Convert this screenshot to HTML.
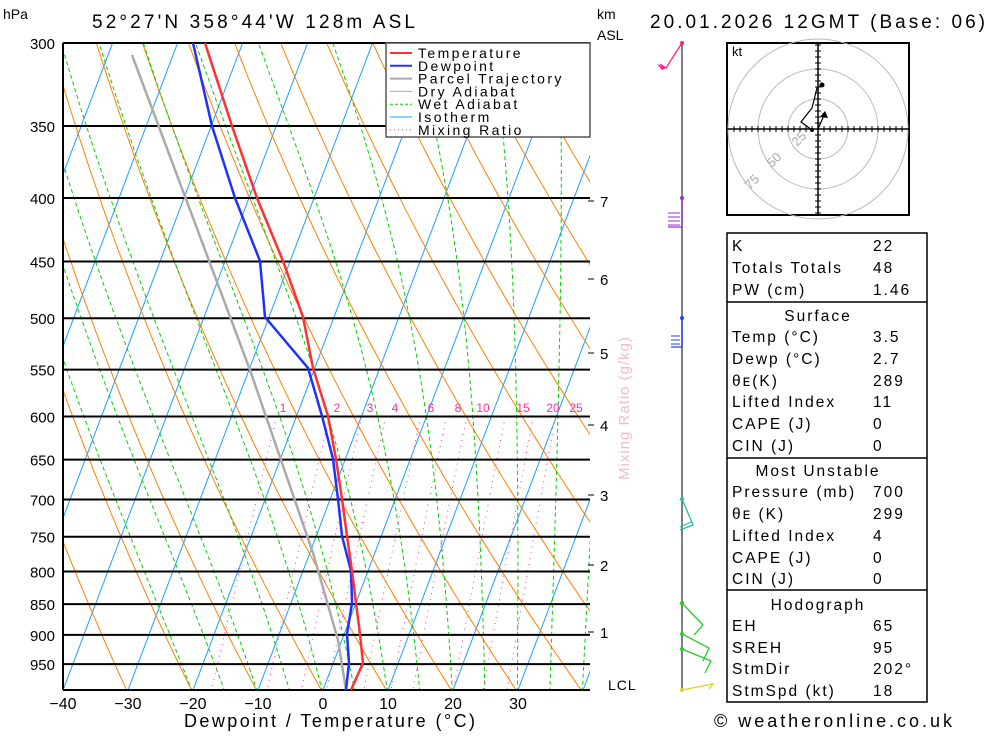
<!DOCTYPE html>
<html><head><meta charset="utf-8"><style>
body{margin:0;background:#fff;width:1000px;height:733px;overflow:hidden}
svg{font-family:"Liberation Sans","DejaVu Sans",sans-serif}
</style></head><body>
<svg id="s" width="1000" height="733" viewBox="0 0 1000 733" xmlns="http://www.w3.org/2000/svg">
<defs><clipPath id="c"><rect x="63" y="43" width="527" height="647"/></clipPath></defs>
<g id="bg" clip-path="url(#c)"></g>
<g id="fg"></g>
</svg>
<script>
var NS="http://www.w3.org/2000/svg";
var bg=document.getElementById('bg'),fg=document.getElementById('fg');
function el(p,t,a,txt){var e=document.createElementNS(NS,t);for(var k in a)e.setAttribute(k,a[k]);if(txt!==undefined)e.textContent=txt;p.appendChild(e);return e;}
function Y(p){return 43+538.8*Math.log(p/300);}
function X(T,p){return 323+6.5*T+0.378*(690-Y(p));}
function poly(g,pts,a){a.points=pts.map(function(q){return q[0].toFixed(1)+','+q[1].toFixed(1)}).join(' ');a.fill='none';return el(g,'polyline',a);}
var PB=1000;
for(var T=-120;T<=60;T+=10){poly(bg,[[X(T,PB),Y(PB)],[X(T,250),Y(250)]],{stroke:'#1aa0ff','stroke-width':1});}
for(var th=-40;th<=220;th+=10){var pts=[];for(var p=250;p<=1000;p+=10){var t=(th+273.15)*Math.pow(p/1000,0.286)-273.15;pts.push([X(t,p),Y(p)]);}poly(bg,pts,{stroke:'#ff8000','stroke-width':1});}
function es(t){return 6.112*Math.exp(17.67*t/(t+243.5));}
for(var tw=-20;tw<=40;tw+=5){var t=tw,pts=[[X(t,1000),Y(1000)]];for(var p=1000;p>250;p-=5){var Tk=t+273.15,rs=0.622*es(t)/(p-es(t));var d=(287*Tk+2.5e6*rs)/(p*(1004+2.5e6*2.5e6*rs*0.622/(287*Tk*Tk)));t-=d*5;pts.push([X(t,p-5),Y(p-5)]);}poly(bg,pts,{stroke:'#00d000','stroke-width':1,'stroke-dasharray':'4,3'});}
[1,2,3,4,6,8,10,15,20,25].forEach(function(w){var pts=[];for(var p=600;p<=1000;p+=10){var e=w*1e-3*p/(0.622+w*1e-3),l=Math.log(e/6.112),t=243.5*l/(17.67-l);pts.push([X(t,p),Y(p)]);}poly(bg,pts,{stroke:'#ff2da0','stroke-width':1,'stroke-dasharray':'1,5'});});
[300,350,400,450,500,550,600,650,700,750,800,850,900,950].forEach(function(p){var y=Y(p);el(fg,'line',{x1:63,x2:590,y1:y,y2:y,stroke:'#000','stroke-width':2});el(fg,'text',{x:55,y:y+6,'text-anchor':'end','font-size':15},p);});
el(fg,'line',{x1:63,x2:63,y1:43,y2:690,stroke:'#000','stroke-width':2});
el(fg,'line',{x1:63,x2:590,y1:690,y2:690,stroke:'#000','stroke-width':2});
poly(fg,[[132,55],[250,370],[313,553],[338,640],[346,690]],{stroke:'#aaa','stroke-width':2.5});
poly(fg,[[193,43],[212,126],[235,198],[260,261],[265,317],[308,368],[322,416],[333,459],[338,499],[342,536],[351,571],[352,603],[347,634],[349,663],[346,690]],{stroke:'#2030ff','stroke-width':2.5});
poly(fg,[[205,43],[232,126],[257,198],[283,261],[303,317],[313,368],[328,416],[336,459],[342,499],[347,536],[352,571],[356,603],[360,634],[363,663],[351,690]],{stroke:'#ff3030','stroke-width':2.5});
[[1,283],[2,337],[3,370],[4,395],[6,431],[8,458],[10,483],[15,523],[20,553],[25,576]].forEach(function(a){el(fg,'text',{x:a[1],y:412,'font-size':12,fill:'#ff2da0','text-anchor':'middle'},a[0]);});
el(fg,'rect',{x:386,y:43,width:204,height:94,fill:'#fff',stroke:'#555','stroke-width':1.5});
[['Temperature','#ff3030',2],['Dewpoint','#2030ff',2],['Parcel Trajectory','#aaa',2],['Dry Adiabat','#aaa',1],['Wet Adiabat','#00d000',1],['Isotherm','#1aa0ff',1],['Mixing Ratio','#ff2da0',1]].forEach(function(r,i){var y=53+i*12.8;var a={x1:390,x2:412,y1:y,y2:y,stroke:r[1],'stroke-width':r[2]};if(i==4)a['stroke-dasharray']='3,2';if(i==6)a['stroke-dasharray']='1,3';el(fg,'line',a);el(fg,'text',{x:418,y:y+5,'font-size':14,'letter-spacing':'2.4'},r[0]);});
for(var T=-40;T<=30;T+=10){el(fg,'text',{x:323+6.5*T,y:709,'font-size':16,'text-anchor':'middle'},T==-40?'\u221240':(T<0?'\u2212'+(-T):T));}
el(fg,'text',{x:184,y:727,'font-size':18,textLength:291,lengthAdjust:'spacing'},'Dewpoint / Temperature (\u00b0C)');
el(fg,'text',{x:3,y:19,'font-size':14},'hPa');
el(fg,'text',{x:92,y:28,'font-size':19,textLength:323,lengthAdjust:'spacing'},"52\u00b027'N  358\u00b044'W  128m  ASL");
el(fg,'text',{x:650,y:28,'font-size':19,textLength:335,lengthAdjust:'spacing'},'20.01.2026  12GMT  (Base: 06)');
el(fg,'text',{x:597,y:19,'font-size':14},'km');
el(fg,'text',{x:597,y:40,'font-size':14},'ASL');
[[7,201],[6,279],[5,353],[4,425],[3,495],[2,565],[1,632]].forEach(function(a){el(fg,'text',{x:600,y:a[1]+6,'font-size':15},a[0]);el(fg,'line',{x1:588,x2:594,y1:a[1],y2:a[1],stroke:'#000'});});
el(fg,'text',{x:608,y:690,'font-size':14,'letter-spacing':'1'},'LCL');
el(fg,'text',{x:629,y:408,'font-size':15,'text-anchor':'middle',fill:'#f5b8d0',transform:'rotate(-90 629 408)','letter-spacing':'1'},'Mixing Ratio (g/kg)');
el(fg,'line',{x1:682,x2:682,y1:43,y2:690,stroke:'#555','stroke-width':1.5});
function barb(y,col,pts){el(fg,'circle',{cx:682,cy:y,r:2,fill:col});poly(fg,pts,{stroke:col,'stroke-width':1.3});}
barb(43,'#ff2080',[[682,43],[666,68],[660,64]]);el(fg,'polygon',{points:'666,68 657,64 662,70',fill:'#ff2080'});
barb(198,'#9030d0',[[682,198],[682,227],[668,227]]);[213,217,221,225].forEach(function(y){el(fg,'line',{x1:668,x2:680,y1:y,y2:y,stroke:'#9030d0'});});
barb(318,'#2040ff',[[682,318],[682,347],[671,347]]);[336,340,344].forEach(function(y){el(fg,'line',{x1:671,x2:680,y1:y,y2:y,stroke:'#2040ff'});});
barb(499,'#20c0a0',[[682,499],[693,525],[680,530]]);el(fg,'line',{x1:680,x2:691,y1:527,y2:522,stroke:'#20c0a0'});
barb(603,'#20d020',[[682,603],[703,625],[694,635]]);
barb(634,'#20d020',[[682,634],[709,648],[703,661]]);
barb(649,'#20d020',[[682,649],[711,661],[705,673]]);
barb(690,'#e0d020',[[682,690],[713,684],[709,689]]);
var hg=el(fg,'g',{});
el(hg,'rect',{x:727,y:43,width:182,height:172,fill:'#fff',stroke:'#000','stroke-width':2});
[30,60,90].forEach(function(r){el(hg,'circle',{cx:818,cy:129,r:r,fill:'none',stroke:'#bbb'});});
el(hg,'line',{x1:727,x2:909,y1:129,y2:129,stroke:'#000','stroke-width':1.5});
el(hg,'line',{x1:818,x2:818,y1:43,y2:215,stroke:'#000','stroke-width':1.5});
for(var d=-84;d<=84;d+=6){if(d==0)continue;el(hg,'line',{x1:818+d,x2:818+d,y1:126,y2:132,stroke:'#000'});el(hg,'line',{x1:815,x2:821,y1:129+d,y2:129+d,stroke:'#000'});}
el(hg,'text',{x:732,y:56,'font-size':13},'kt');
[['25',797,147],['50',772,168],['75',750,190]].forEach(function(a){el(hg,'text',{x:a[1],y:a[2],'font-size':13,fill:'#aaa',transform:'rotate(-45 '+a[1]+' '+a[2]+')'},a[0]);});
poly(hg,[[812,130],[801,122],[808,113],[812,108],[817,88],[822,85]],{stroke:'#000','stroke-width':1.2});
el(hg,'circle',{cx:822,cy:85,r:2.5,fill:'#000'});el(hg,'circle',{cx:812,cy:130,r:2,fill:'#000'});
poly(hg,[[818,129],[825,113]],{stroke:'#000','stroke-width':1.2});el(hg,'polygon',{points:'825,111 820,117 828,118',fill:'#000'});
var tb=el(fg,'g',{'font-size':15.5});
el(tb,'rect',{x:727,y:233,width:200,height:469,fill:'none',stroke:'#000','stroke-width':1.5});
[302,458,590].forEach(function(y){el(tb,'line',{x1:727,x2:927,y1:y,y2:y,stroke:'#000','stroke-width':1.5});});
var rows=[['K','22',245],['Totals Totals','48',267],['PW (cm)','1.46',289],['Temp (\u00b0C)','3.5',336],['Dewp (\u00b0C)','2.7',358],['\u03b8\u1d07(K)','289',380],['Lifted Index','11',401],['CAPE (J)','0',423],['CIN (J)','0',445],['Pressure (mb)','700',491],['\u03b8\u1d07 (K)','299',513],['Lifted Index','4',535],['CAPE (J)','0',557],['CIN (J)','0',578],['EH','65',625],['SREH','95',647],['StmDir','202\u00b0',668],['StmSpd (kt)','18',690]];
rows.forEach(function(r){el(tb,'text',{x:732,y:r[2]+6,'letter-spacing':'2'},r[0]);el(tb,'text',{x:873,y:r[2]+6,'letter-spacing':'2'},r[1]);});
[['Surface',315],['Most Unstable',470],['Hodograph',604]].forEach(function(r){el(tb,'text',{x:818,y:r[1]+6,'text-anchor':'middle','letter-spacing':'2'},r[0]);});
el(fg,'text',{x:714,y:727,'font-size':18,textLength:238,lengthAdjust:'spacing'},'\u00a9 weatheronline.co.uk');
</script>
</body></html>
